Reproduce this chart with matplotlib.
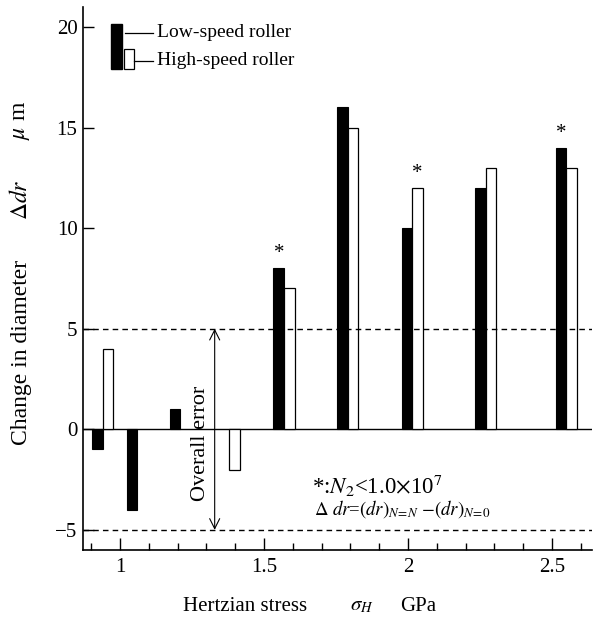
import numpy as np
import matplotlib
matplotlib.use('Agg')
import matplotlib.pyplot as plt
from matplotlib.patches import Rectangle

plt.rcParams['font.family'] = ['Liberation Serif', 'DejaVu Serif']
plt.rcParams['mathtext.fontset'] = 'stix'

# Hertzian stress (GPa) of each test pair, and change in diameter (um)
stress = [0.94, 1.06, 1.21, 1.38, 1.57, 1.79, 2.015, 2.27, 2.55]
low_speed = [-1, -4, 1, np.nan, 8, 16, 10, 12, 14]
high_speed = [4, np.nan, np.nan, -2, 7, 15, 12, 13, 13]
star_low = [4, 8]    # N2 < 1.0e7
star_high = [6]
error_band = 5

w = 0.037
x = np.array(stress)

fig = plt.figure(figsize=(5.93, 6.25), dpi=100)
ax = fig.add_axes([0.140, 0.12, 0.858, 0.869])

ax.bar(x - w / 2, low_speed, width=w, color='black', edgecolor='black', linewidth=0.8)
ax.bar(x + w / 2, high_speed, width=w, color='white', edgecolor='black', linewidth=0.9)

for i in star_low:
    ax.text(x[i] - w / 2, low_speed[i] + 0.25, '*', ha='center', va='bottom', fontsize=15)
for i in star_high:
    ax.text(x[i] + w / 2, high_speed[i] + 0.25, '*', ha='center', va='bottom', fontsize=15)

ax.axhline(0, color='black', lw=1.0, zorder=0)
ax.axhline(error_band, color='black', lw=1.0, ls=(0, (4, 3)))
ax.axhline(-error_band, color='black', lw=1.0, ls=(0, (4, 3)))

# overall error arrow
ax.annotate('', xy=(1.329, -error_band), xytext=(1.329, error_band),
            arrowprops=dict(arrowstyle='<->', lw=0.8, color='black',
                            shrinkA=0, shrinkB=0, mutation_scale=18))
ax.text(1.28, -0.7, 'Overall error', rotation=90, ha='center', va='center', fontsize=16)

ax.text(1.667, -2.8, r'*:$N_2$<1.0$\times$10$^7$', fontsize=16.5, va='center')
ax.text(1.675, -3.95, r'$\mathit{\Delta\ dr}$=$\mathit{(dr)}_{N\!=\!N}$ $-$$\mathit{(dr)}_{N\!=\!0}$',
        fontsize=13.5, va='center')

# legend drawn by hand
ax.add_patch(Rectangle((0.055, 0.886), 0.022, 0.083, transform=ax.transAxes,
                       facecolor='black', edgecolor='black', clip_on=False))
ax.add_patch(Rectangle((0.0805, 0.886), 0.0195, 0.037, transform=ax.transAxes,
                       facecolor='white', edgecolor='black', lw=0.9, clip_on=False))
ax.plot([0.0825, 0.1375], [0.952, 0.952], color='black', lw=0.9, transform=ax.transAxes)
ax.plot([0.100, 0.1375], [0.9006, 0.9006], color='black', lw=0.9, transform=ax.transAxes)
ax.text(0.145, 0.952, 'Low-speed roller', transform=ax.transAxes, va='center', fontsize=14)
ax.text(0.145, 0.9006, 'High-speed roller', transform=ax.transAxes, va='center', fontsize=14)

ax.set_xlim(0.872, 2.638)
ax.set_ylim(-6, 21)
ax.set_xticks([1, 1.5, 2, 2.5])
ax.set_xticklabels(['1', '1.5', '2', '2.5'])
ax.set_xticks(np.arange(0.9, 2.65, 0.1), minor=True)
ax.set_yticks([-5, 0, 5, 10, 15, 20])
ax.tick_params(axis='x', which='major', direction='in', length=9, width=1, labelsize=15, pad=6)
ax.tick_params(axis='x', which='minor', direction='in', length=5, width=1)
ax.tick_params(axis='y', direction='in', length=8, width=1, labelsize=15, pad=4)
for s in ['top', 'right']:
    ax.spines[s].set_visible(False)
for s in ['left', 'bottom']:
    ax.spines[s].set_linewidth(1.2)

# axis titles, placed piece by piece as in the original
fig.text(183 / 593, 0.030, 'Hertzian stress', ha='left', va='center', fontsize=15)
fig.text(350 / 593, 0.030, r'$\mathit{\sigma}_{H}$', ha='left', va='center', fontsize=15)
fig.text(400 / 593, 0.030, 'GPa', ha='left', va='center', fontsize=15)

fig.text(0.036, 180 / 625, 'Change in diameter', rotation=90, ha='center', va='bottom', fontsize=17)
fig.text(0.036, 405 / 625, r'$\mathit{\Delta dr}$', rotation=90, ha='center', va='bottom', fontsize=17)
fig.text(0.036, 485 / 625, r'$\mathit{\mu}$ m', rotation=90, ha='center', va='bottom', fontsize=17)

fig.savefig('out.png', dpi=100)
